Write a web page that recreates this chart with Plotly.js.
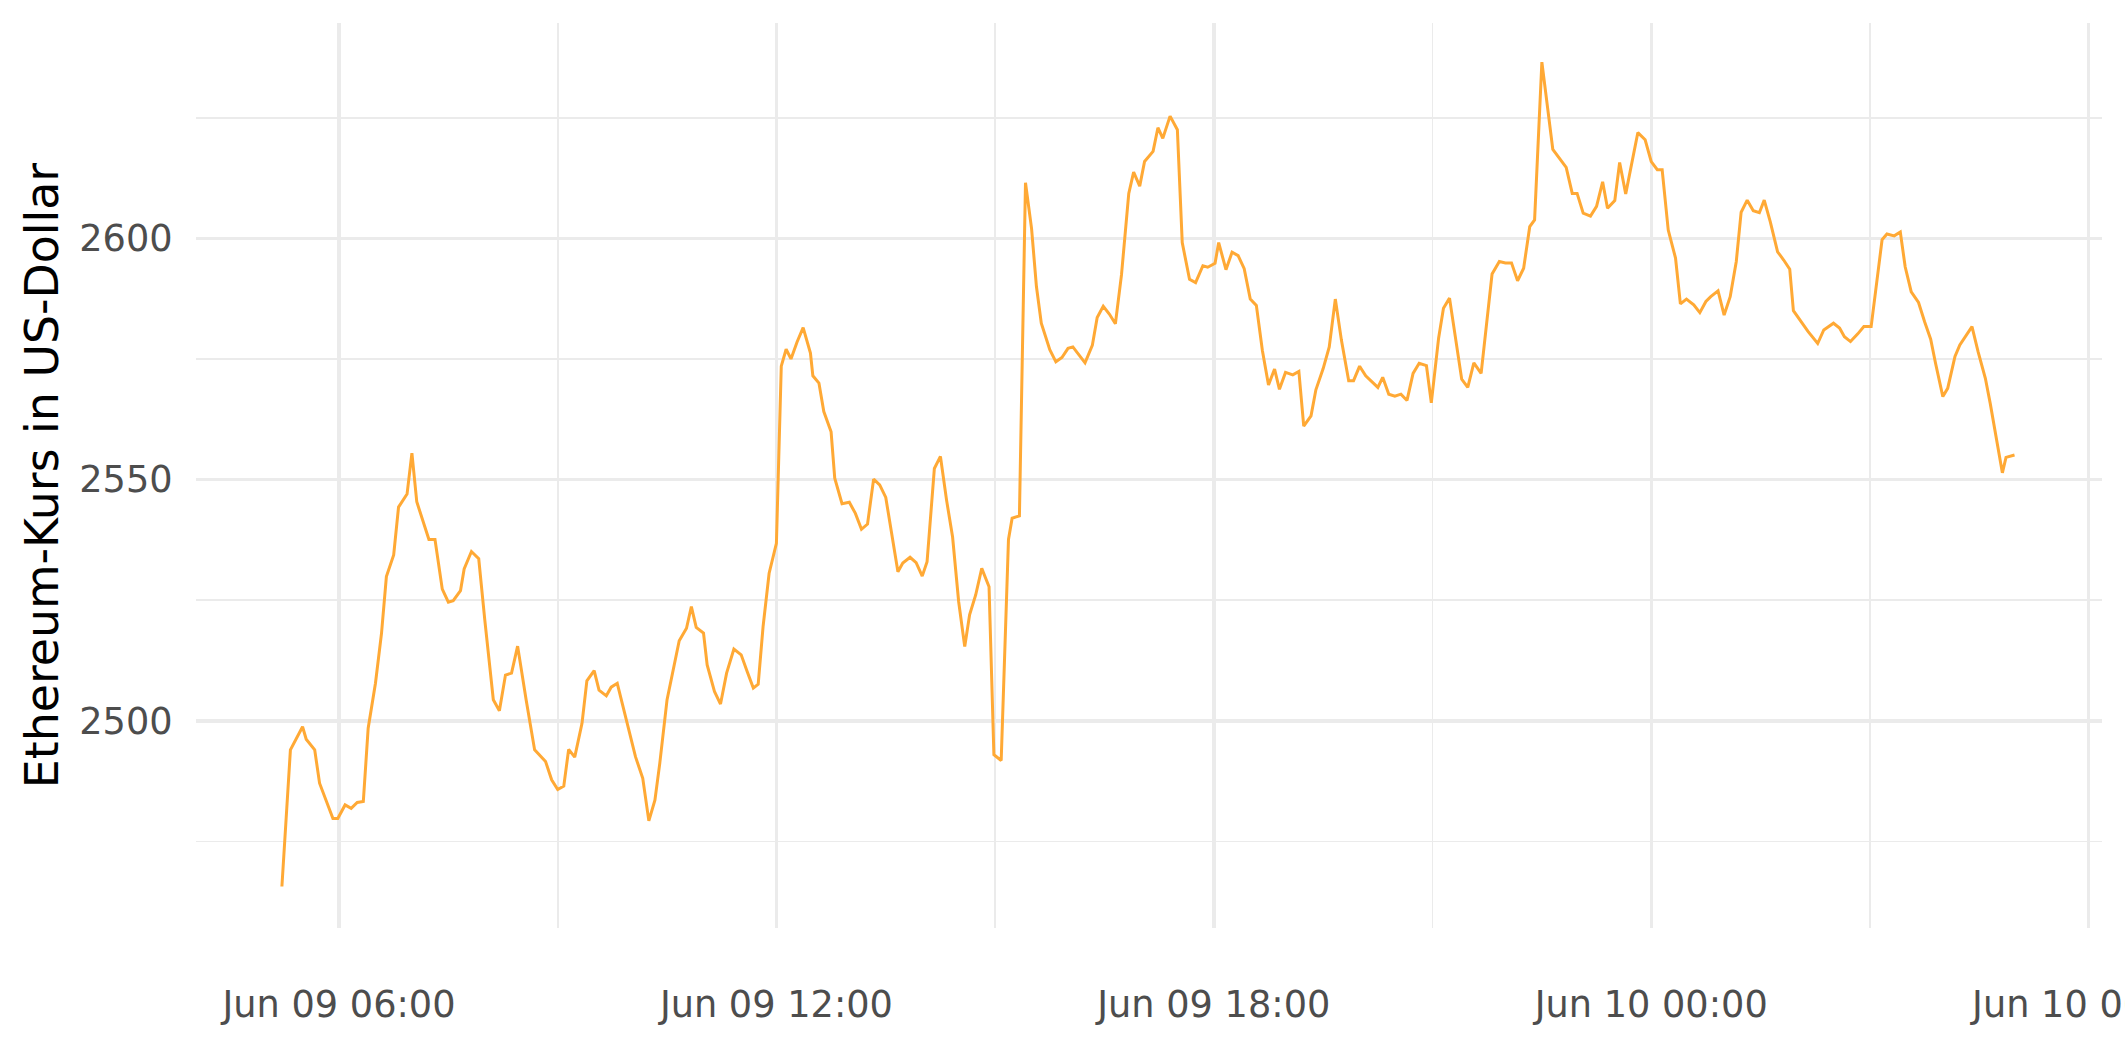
<!DOCTYPE html>
<html>
<head>
<meta charset="utf-8">
<script src="https://cdn.plot.ly/plotly-3.0.1.min.js"></script>
<style>html,body{margin:0;padding:0;background:#fff;}#chart{width:2125px;height:1062px;}</style>
</head>
<body>
<div id="chart"></div>
<script>
// Times (HH:MM) on Jun 09 and Jun 10
const times09 = [
 "05:13","05:20","05:30","05:33","05:40","05:44","05:55","05:59","06:05","06:10",
 "06:15","06:20","06:24","06:30","06:35","06:39","06:45","06:49","06:56","07:00",
 "07:04","07:09","07:14","07:19","07:25","07:30","07:34","07:40","07:43","07:49",
 "07:55","08:00","08:07","08:12","08:17","08:22","08:27","08:34","08:41","08:50",
 "08:55","09:00","09:05","09:09","09:14","09:20","09:24","09:30","09:34","09:40",
 "09:44","09:49","09:54","09:59","10:04","10:10","10:15","10:20","10:24","10:30",
 "10:35","10:40","10:46","10:50","10:54","11:00","11:03","11:09","11:14","11:19",
 "11:25","11:31","11:36","11:41","11:45","11:49","11:54","12:00","12:04","12:08",
 "12:12","12:17","12:22","12:28","12:30","12:35","12:39","12:45","12:48","12:54",
 "13:00","13:05","13:10","13:15","13:20","13:25","13:30","13:35","13:40","13:44",
 "13:50","13:55","14:00","14:04","14:10","14:15","14:20","14:25","14:30","14:35",
 "14:39","14:44","14:49","14:55","14:59","15:05","15:11","15:14","15:20","15:25",
 "15:30","15:34","15:38","15:45","15:50","15:55","16:00","16:04","16:09","16:14",
 "16:20","16:24","16:29","16:34","16:39","16:44","16:50","16:54","16:59","17:03",
 "17:10","17:14","17:18","17:24","17:30","17:34","17:40","17:45","17:51","17:55",
 "18:01","18:04","18:10","18:15","18:20","18:25","18:30","18:35","18:40","18:45",
 "18:50","18:54","18:59","19:05","19:10","19:14","19:20","19:24","19:30","19:35",
 "19:40","19:45","19:51","19:55","20:00","20:05","20:15","20:19","20:24","20:29",
 "20:34","20:39","20:44","20:49","20:55","20:59","21:05","21:09","21:14","21:24",
 "21:29","21:34","21:40","21:44","21:49","21:55","22:00","22:05","22:10","22:15",
 "22:20","22:24","22:30","22:39","22:44","22:50","22:55","22:59","23:04","23:10",
 "23:15","23:20","23:24","23:30","23:34","23:39","23:49","23:55"
];
const prices09 = [
 2465.7,2494.0,2498.8,2496.2,2494.0,2487.1,2479.8,2479.8,2482.6,2481.9,
 2483.1,2483.3,2498.5,2507.8,2518.2,2529.9,2534.4,2544.3,2547.0,2555.5,
 2545.4,2541.6,2537.6,2537.6,2527.3,2524.6,2524.9,2527.0,2531.5,2535.1,
 2533.6,2520.9,2504.4,2502.1,2509.5,2509.9,2515.5,2504.4,2494.0,2491.6,
 2487.8,2485.8,2486.5,2494.1,2492.5,2499.5,2508.3,2510.4,2506.4,2505.2,
 2507.0,2507.8,2502.6,2497.8,2492.6,2488.1,2479.3,2483.6,2491.2,2504.4,
 2510.9,2516.6,2519.2,2523.7,2519.4,2518.2,2511.6,2506.1,2503.5,2509.9,
 2514.9,2513.7,2510.2,2506.8,2507.6,2519.5,2530.6,2536.8,2573.5,2577.0,
 2575.0,2578.5,2581.5,2576.2,2571.5,2570.0,2564.1,2559.9,2550.3,2545.0,
 2545.3,2543.0,2539.7,2540.8,2550.1,2548.9,2546.3,2538.9,2530.9,2532.7,
 2533.9,2532.8,2530.0,2533.0,2552.3,2554.8,2545.8,2538.1,2524.7,2515.4,
 2522.0,2526.1,2531.6,2527.8,2493.0,2491.8,2537.6,2542.0,2542.5,2611.5,
 2602.0,2590.0,2582.4,2576.9,2574.4,2575.3,2577.2,2577.5,2575.8,2574.2,
 2577.8,2583.6,2585.9,2584.3,2582.3,2592.4,2609.3,2613.7,2610.8,2615.9,
 2618.0,2622.9,2620.7,2625.3,2622.5,2599.1,2591.5,2590.8,2594.3,2594.0,
 2594.8,2599.1,2593.5,2597.1,2596.4,2593.7,2587.4,2586.1,2576.7,2569.6,
 2572.9,2568.7,2572.2,2571.7,2572.4,2561.1,2563.2,2568.6,2573.0,2577.5,
 2587.4,2578.9,2570.5,2570.5,2573.5,2571.5,2569.1,2571.2,2567.7,2567.3,
 2567.7,2566.4,2572.0,2574.1,2573.6,2565.9,2579.3,2585.5,2587.6,2570.8,
 2569.1,2574.2,2572.0,2581.7,2592.6,2595.2,2594.9,2594.9,2591.2,2593.8,
 2602.4,2603.8,2636.5,2618.4,2616.6,2614.7,2609.3,2609.3,2605.2,2604.6,
 2606.6,2611.7,2606.2,2607.8,2615.7,2609.2,2621.9,2620.4
];
const times10 = [
 "00:00","00:05","00:09","00:14","00:20","00:24","00:29","00:35","00:40","00:45",
 "00:49","00:55","01:00","01:05","01:10","01:14","01:19","01:24","01:29","01:33",
 "01:38","01:44","01:49","01:54","01:57","02:03","02:09","02:17","02:22","02:30",
 "02:35","02:39","02:44","02:50","02:55","03:01","03:10","03:14","03:20","03:25",
 "03:29","03:34","03:40","03:45","03:50","03:54","04:00","04:04","04:10","04:14",
 "04:24","04:29","04:35","04:39","04:44","04:49","04:52","04:59"
];
const prices10 = [
 2615.9,2614.2,2614.2,2601.7,2595.9,2586.4,2587.4,2586.2,2584.6,2586.9,
 2587.9,2589.1,2584.1,2587.9,2595.2,2605.4,2607.9,2605.7,2605.3,2607.9,
 2603.4,2597.2,2595.5,2593.6,2585.0,2582.9,2580.7,2578.2,2581.0,2582.4,
 2581.4,2579.6,2578.6,2580.2,2581.7,2581.7,2599.7,2600.9,2600.5,2601.3,
 2594.1,2588.9,2586.7,2582.7,2579.1,2574.1,2567.2,2568.9,2575.5,2577.9,
 2581.7,2576.5,2571.0,2565.8,2558.6,2551.4,2554.6,2555.1
];
const yTickValues = [2500, 2550, 2600];
const yTickLabels = ["2500", "2550", "2600"];
const yTitle = "Ethereum-Kurs in US-Dollar";

const x = times09.map(t => "2025-06-09 " + t).concat(times10.map(t => "2025-06-10 " + t));
const y = prices09.concat(prices10);

const trace = {
  type: "scatter", mode: "lines", x: x, y: y,
  line: {color: "#FFA935", width: 3},
  hoverinfo: "skip"
};

const grid = "#EBEBEB";
const layout = {
  width: 2125, height: 1062,
  margin: {l: 196, r: 23, t: 23, b: 134, pad: 0},
  paper_bgcolor: "#FFFFFF", plot_bgcolor: "#FFFFFF",
  showlegend: false,
  font: {family: "DejaVu Sans", color: "#4D4D4D", size: 36.7},
  xaxis: {
    type: "date",
    range: ["2025-06-09 04:02:18", "2025-06-10 06:11:00"],
    tickmode: "linear", tick0: "2025-06-09 00:00", dtick: 6 * 3600000,
    tickformat: "%b %d %H:%M",
    showgrid: true, gridcolor: grid, gridwidth: 3.4,
    minor: {tickmode: "linear", tick0: "2025-06-09 00:00", dtick: 3 * 3600000, showgrid: true, gridcolor: grid, gridwidth: 1.8, ticks: ""},
    zeroline: false, showline: false,
    ticks: "outside", ticklen: 44, tickcolor: "rgba(0,0,0,0)",
    ticklabeloverflow: "allow",
    tickfont: {family: "DejaVu Sans", size: 36.7, color: "#4D4D4D"},
    automargin: false
  },
  yaxis: {
    range: [2457.1, 2644.6],
    tickmode: "array", tickvals: yTickValues, ticktext: yTickLabels,
    showgrid: true, gridcolor: grid, gridwidth: 3.4,
    minor: {tickmode: "linear", tick0: 2475, dtick: 50, showgrid: true, gridcolor: grid, gridwidth: 1.8, ticks: ""},
    zeroline: false, showline: false,
    ticks: "outside", ticklen: 15, tickcolor: "rgba(0,0,0,0)",
    tickfont: {family: "DejaVu Sans", size: 36.7, color: "#4D4D4D"},
    title: {text: yTitle, font: {family: "DejaVu Sans", size: 45.8, color: "#000000"}, standoff: 6},
    automargin: false
  }
};

Plotly.newPlot("chart", [trace], layout, {staticPlot: true, displayModeBar: false});
</script>
</body>
</html>
